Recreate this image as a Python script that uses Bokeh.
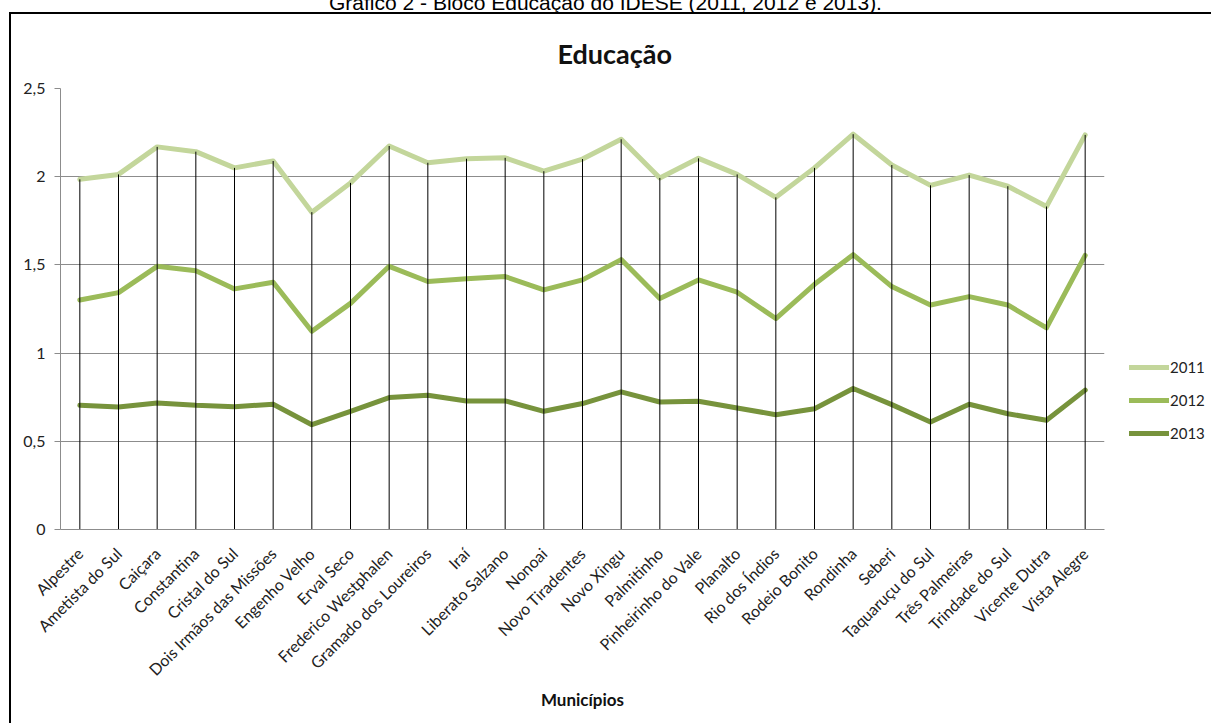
from bokeh.plotting import figure
from bokeh.models import (FactorRange, FixedTicker, Legend, LegendItem, Div,
                          ColumnDataSource)
from bokeh.layouts import column
from bokeh.embed import file_html
from bokeh.resources import INLINE
import math

municipios = ["Alpestre", "Ametista do Sul", "Caiçara", "Constantina", "Cristal do Sul",
              "Dois Irmãos das Missões", "Engenho Velho", "Erval Seco", "Frederico Westphalen",
              "Gramado dos Loureiros", "Iraí", "Liberato Salzano", "Nonoai", "Novo Tiradentes",
              "Novo Xingu", "Palmitinho", "Pinheirinho do Vale", "Planalto", "Rio dos Índios",
              "Rodeio Bonito", "Rondinha", "Seberi", "Taquaruçu do Sul", "Três Palmeiras",
              "Trindade do Sul", "Vicente Dutra", "Vista Alegre"]

v2011 = [1.985, 2.013, 2.169, 2.142, 2.050, 2.089, 1.799, 1.965, 2.174,
         2.079, 2.102, 2.107, 2.031, 2.100, 2.212, 1.993, 2.104, 2.013, 1.883,
         2.050, 2.241, 2.066, 1.951, 2.009, 1.946, 1.831, 2.237]
v2012 = [1.301, 1.343, 1.492, 1.467, 1.364, 1.402, 1.124, 1.282, 1.492,
         1.406, 1.421, 1.434, 1.358, 1.415, 1.530, 1.310, 1.415, 1.345, 1.196,
         1.390, 1.558, 1.377, 1.273, 1.320, 1.273, 1.143, 1.554]
v2013 = [0.704, 0.695, 0.717, 0.704, 0.696, 0.710, 0.594, 0.670, 0.748,
         0.761, 0.729, 0.729, 0.670, 0.714, 0.780, 0.723, 0.727, 0.689, 0.651,
         0.685, 0.799, 0.708, 0.609, 0.710, 0.656, 0.619, 0.790]

series_names = ["2011", "2012", "2013"]
series_colors = ["#C3D69B", "#9BBB59", "#77933C"]
y_ticks = [0, 0.5, 1, 1.5, 2, 2.5]
y_tick_labels = ["0", "0,5", "1", "1,5", "2", "2,5"]

titulo = "Educação"
legenda_eixo_x = "Municípios"
legenda_grafico = "Gráfico 2 - Bloco Educação do IDESE (2011, 2012 e 2013)."

FONT = "Lato"

# figure sits inside a bordered box whose content starts at (11, 14)
p = figure(frame_width=1042, frame_height=439,
           x_range=FactorRange(*municipios, range_padding=0),
           y_range=(0, 2.5), output_backend="svg", toolbar_location=None,
           min_border_left=49, min_border_right=109, min_border_top=74,
           min_border_bottom=196)
p.styles = {"border-left": "2px solid black", "border-top": "2px solid black"}
p.margin = (0, 0, 0, 9)
p.outline_line_color = None
p.background_fill_color = "white"
p.border_fill_color = "white"

p.title.text = titulo
p.title.align = "left"
p.title.offset = 497
p.title.text_font = FONT
p.title.text_font_style = "bold"
p.title.text_font_size = "27px"
p.title.text_color = "#111111"
p.title.standoff = 38

src = ColumnDataSource(dict(x=municipios, a=v2011, b=v2012, c=v2013, zero=[0] * len(municipios)))

renderers = []
for col, color in zip(["a", "b", "c"], series_colors):
    r = p.line("x", col, source=src, line_color=color, line_width=5,
               line_join="round", line_cap="round")
    renderers.append(r)

# drop lines
p.segment(x0="x", y0="zero", x1="x", y1="a", source=src, line_color="black", line_width=1)

# axes
p.yaxis.ticker = FixedTicker(ticks=y_ticks)
p.yaxis.major_label_overrides = {t: l for t, l in zip(y_ticks, y_tick_labels)}
p.yaxis.axis_line_color = "#8c8c8c"
p.yaxis.major_tick_line_color = "#8c8c8c"
p.yaxis.major_tick_out = 6
p.yaxis.major_tick_in = 0
p.yaxis.minor_tick_line_color = None
p.yaxis.major_label_text_font = FONT
p.yaxis.major_label_text_font_size = "16px"
p.yaxis.major_label_text_color = "#222222"
p.yaxis.major_label_standoff = 9

p.xaxis.axis_line_color = "#8c8c8c"
p.xaxis.major_tick_line_color = None
p.xaxis.major_tick_out = 0
p.xaxis.major_label_orientation = math.pi / 4
p.xaxis.major_label_text_font = FONT
p.xaxis.major_label_text_font_size = "16px"
p.xaxis.major_label_text_color = "#222222"
p.xaxis.major_label_standoff = 21
p.xaxis.axis_label = legenda_eixo_x
p.xaxis.axis_label_text_font = FONT
p.xaxis.axis_label_text_font_style = "bold"
p.xaxis.axis_label_text_font_size = "17px"
p.xaxis.axis_label_text_color = "#111111"
p.xaxis.axis_label_standoff = 0

p.xgrid.grid_line_color = None
p.ygrid.grid_line_color = "#8c8c8c"
p.ygrid.grid_line_width = 1

legend = Legend(items=[LegendItem(label=n, renderers=[r]) for n, r in zip(series_names, renderers)],
                location=(25, 86), padding=0, margin=0, spacing=13,
                glyph_width=40, glyph_height=20, label_standoff=1,
                label_text_font=FONT, label_text_font_size="15px", label_text_color="#222222",
                border_line_color=None, background_fill_alpha=0)
p.add_layout(legend, "right")

caption = Div(text=legenda_grafico, width=1211, height=12, margin=0,
              styles={"overflow": "hidden"},
              stylesheets=[":host { overflow: hidden; } div { position: relative; top: -9px; "
                           "text-align: center; width: 1211px; font-family: 'Liberation Sans'; "
                           "font-size: 21px; line-height: 24px; color: black; white-space: nowrap; }"])

layout = column(caption, p, spacing=0)

open("out.html", "w").write(file_html(layout, INLINE))
